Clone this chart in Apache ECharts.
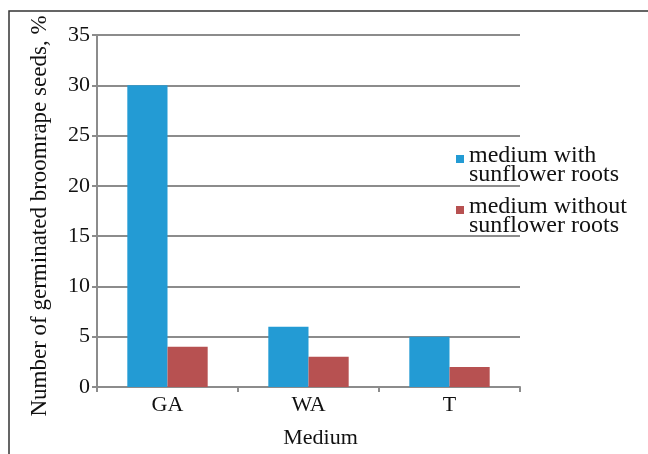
<!DOCTYPE html>
<html>
<head>
<meta charset="utf-8">
<script src="https://cdn.jsdelivr.net/npm/echarts@6/dist/echarts.min.js"></script>
<style>html,body{margin:0;padding:0;background:#fff;}#c{width:648px;height:454px;}</style>
</head>
<body>
<div id="c"></div>
<script>
const categories = ['GA', 'WA', 'T'];
const withRoots = [30, 6, 5];
const withoutRoots = [4, 3, 2];
const seriesNames = ['medium with\nsunflower roots', 'medium without\nsunflower roots'];
const colors = ['#239BD4', '#B75151'];
const FONT = 'Liberation Serif';

const chart = echarts.init(document.getElementById('c'));
chart.setOption({
  animation: false,
  backgroundColor: '#fff',
  textStyle: { fontFamily: FONT },
  grid: { left: 97, top: 35, right: 128, bottom: 63 },
  legend: { show: false, data: seriesNames },
  xAxis: {
    type: 'category',
    data: categories,
    name: 'Medium',
    nameLocation: 'middle',
    nameGap: 40,
    nameTextStyle: { fontFamily: FONT, fontSize: 22, color: '#111', padding: [0, 0, 0, 24] },
    axisLine: { lineStyle: { color: '#8c8c8c', width: 2 } },
    axisTick: { show: true, length: 5, lineStyle: { color: '#8c8c8c', width: 2 } },
    axisLabel: { fontFamily: FONT, fontSize: 22, color: '#111', margin: 7 }
  },
  yAxis: {
    type: 'value',
    min: 0, max: 35, interval: 5,
    name: 'Number of germinated broomrape seeds, %',
    nameLocation: 'middle',
    nameGap: 46,
    nameTextStyle: { fontFamily: FONT, fontSize: 23, color: '#111', padding: [0, 10, 0, 0] },
    axisLine: { show: true, lineStyle: { color: '#8c8c8c', width: 2 } },
    axisTick: { show: true, length: 5, lineStyle: { color: '#8c8c8c', width: 2 } },
    axisLabel: { fontFamily: FONT, fontSize: 22, color: '#111', margin: 7 },
    splitLine: { lineStyle: { color: '#8c8c8c', width: 2 } }
  },
  series: [
    { name: seriesNames[0], type: 'bar', data: withRoots, barGap: '0%', barCategoryGap: '43%',
      itemStyle: { color: colors[0] } },
    { name: seriesNames[1], type: 'bar', data: withoutRoots,
      itemStyle: { color: colors[1] } }
  ],
  graphic: [
    { type: 'polyline', shape: { points: [[9, 454], [9, 11], [648, 11]] },
      style: { stroke: '#333', lineWidth: 1.5, fill: null } },
    { type: 'rect', shape: { x: 456, y: 155, width: 8, height: 8 }, style: { fill: colors[0] } },
    { type: 'text', left: 469, top: 144, style: { text: seriesNames[0], font: '24px "Liberation Serif"', fill: '#111', lineHeight: 19 } },
    { type: 'rect', shape: { x: 456, y: 206, width: 8, height: 8 }, style: { fill: colors[1] } },
    { type: 'text', left: 469, top: 195, style: { text: seriesNames[1], font: '24px "Liberation Serif"', fill: '#111', lineHeight: 19 } }
  ]
});
</script>
</body>
</html>
